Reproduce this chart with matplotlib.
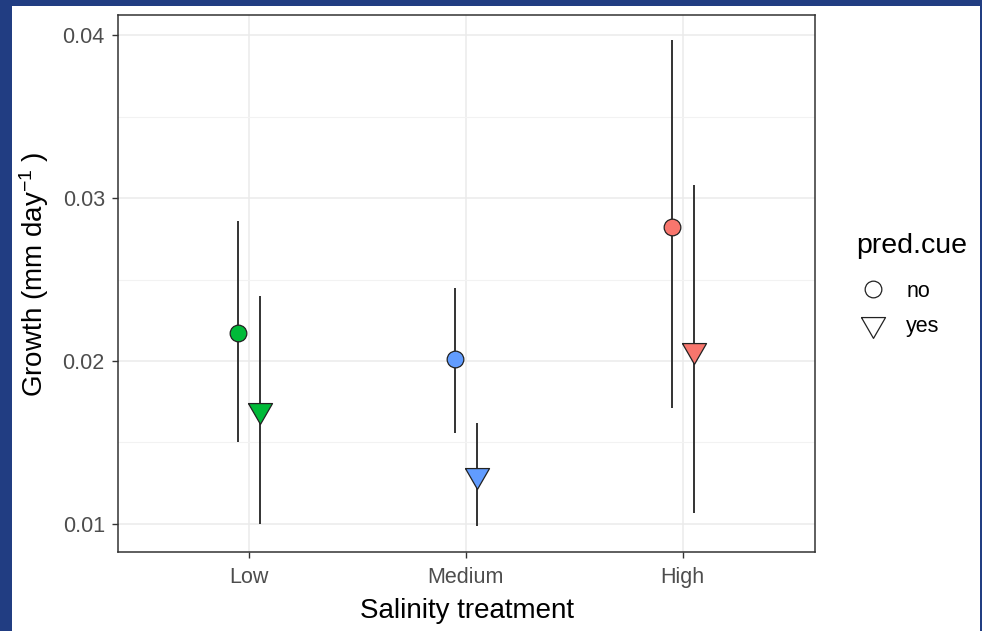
import numpy as np
import matplotlib
matplotlib.use("Agg")
import matplotlib.pyplot as plt
from matplotlib.lines import Line2D
from matplotlib.patches import Rectangle

plt.rcParams['font.family'] = ['Liberation Sans', 'DejaVu Sans']
plt.rcParams['mathtext.fontset'] = 'custom'
plt.rcParams['mathtext.rm'] = 'Liberation Sans'
plt.rcParams['mathtext.it'] = 'Liberation Sans'

# Data
salinity = ['Low', 'Medium', 'High']
colors = ['#00BA38', '#619CFF', '#F8766D']

growth_no = [0.0217, 0.0201, 0.0282]
lower_no = [0.0150, 0.0156, 0.0171]
upper_no = [0.0286, 0.0245, 0.0397]

growth_yes = [0.0170, 0.0130, 0.0207]
lower_yes = [0.0100, 0.0099, 0.0107]
upper_yes = [0.0240, 0.0162, 0.0308]

dodge = 0.05

fig = plt.figure(figsize=(9.82, 6.31), dpi=100, facecolor='#213d82')
fig.patches.append(Rectangle((12 / 982, 0), 968 / 982, 1 - 6 / 631,
                             transform=fig.transFigure, facecolor='white',
                             edgecolor='none', zorder=-5))
ax = fig.add_axes([118 / 982, 1 - 552 / 631, (815 - 118) / 982, (552 - 15) / 631])
ax.set_zorder(2)

x = np.arange(1, len(salinity) + 1)

# down-triangle marker centred on its centroid (like R pch 25)
tri = [(-1, 0.577), (1, 0.577), (0, -1.155), (-1, 0.577)]

ax.vlines(x - dodge, lower_no, upper_no, color='#333333', lw=1.4, zorder=3)
ax.vlines(x + dodge, lower_yes, upper_yes, color='#333333', lw=1.4, zorder=3)
for i in range(len(salinity)):
    ax.plot(x[i] - dodge, growth_no[i], marker='o', ms=12, mfc=colors[i],
            mec='#222222', mew=0.9, ls='none', zorder=4)
    ax.plot(x[i] + dodge, growth_yes[i], marker=tri, ms=20, mfc=colors[i],
            mec='#222222', mew=0.9, ls='none', zorder=4)

ax.set_xlim(0.396, 3.61)
ax.set_ylim(0.00828, 0.04123)
ax.set_xticks(x)
ax.set_xticklabels(salinity)
ax.set_yticks([0.01, 0.02, 0.03, 0.04])
ax.set_yticklabels(['0.01', '0.02', '0.03', '0.04'])
ax.set_yticks([0.015, 0.025, 0.035], minor=True)
ax.grid(True, which='major', color='#EBEBEB', lw=1.1, zorder=0)
ax.grid(True, which='minor', axis='y', color='#F2F2F2', lw=0.8, zorder=0)
ax.set_axisbelow(True)
ax.tick_params(axis='both', which='major', labelsize=15.5, labelcolor='#4D4D4D',
               color='#333333', length=4, width=1)
ax.tick_params(axis='x', which='major', pad=7)
ax.tick_params(axis='y', which='major', pad=5.5)
ax.tick_params(axis='y', which='minor', length=0)
for s in ax.spines.values():
    s.set_color('#333333')
    s.set_linewidth(1.1)

ax.set_xlabel('Salinity treatment', fontsize=20, labelpad=7)
ax.set_ylabel('Growth (mm day$^{-1}$ )', fontsize=20, labelpad=8)
ax.yaxis.label.set_y(0.518)

handles = [
    Line2D([], [], marker='o', ms=12, mfc='white', mec='#222222', mew=0.9, ls='none'),
    Line2D([], [], marker=tri, ms=20, mfc='white', mec='#222222', mew=0.9, ls='none'),
]
leg = fig.legend(handles, ['no', 'yes'], title='pred.cue', loc='upper left',
                 bbox_to_anchor=(848 / 982, 1 - 224 / 631), frameon=False,
                 fontsize=15.5, title_fontsize=20.5, handlelength=1.5,
                 handletextpad=0.8, labelspacing=0.65, borderaxespad=0)
leg._legend_box.align = 'left'
leg._legend_box.sep = 16

fig.savefig('out.png', dpi=100, facecolor=fig.get_facecolor())
